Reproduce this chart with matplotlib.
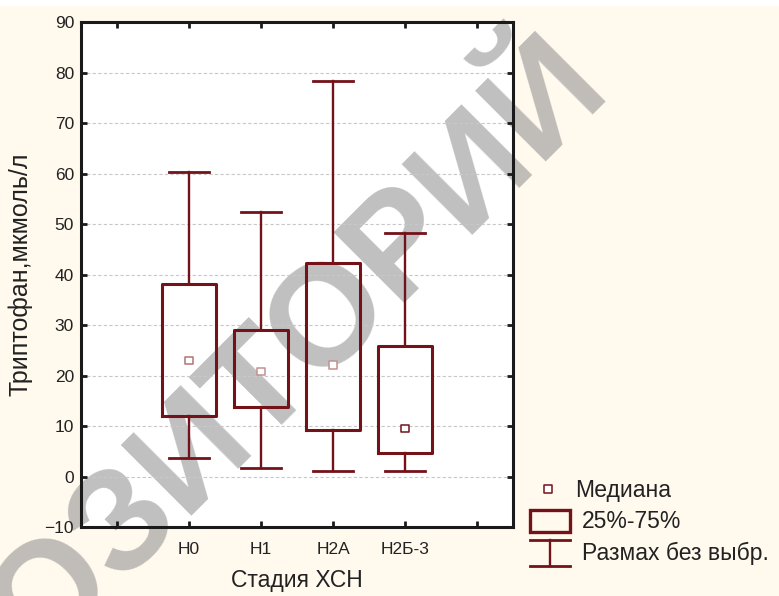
import numpy as np
import matplotlib
matplotlib.use('Agg')
import matplotlib.pyplot as plt
from matplotlib.patches import Rectangle

# tryptophan by CHF stage: medians, quartiles and non-outlier range
stages = ['Н0', 'Н1', 'Н2А', 'Н2Б-3']
medians = [23.0, 20.8, 22.1, 9.5]
q1 = [12.0, 13.8, 9.2, 4.7]
q3 = [38.1, 29.0, 42.3, 25.9]
whisk_lo = [3.7, 1.6, 1.0, 1.0]
whisk_hi = [60.3, 52.4, 78.3, 48.2]

maroon = '#74121a'
median_colors = ['#b07575', '#c49090', '#c49090', '#74121a']
bg = '#fff9ee'
text_color = '#222222'

plt.rcParams['font.family'] = ['Liberation Sans', 'DejaVu Sans']

fig = plt.figure(figsize=(7.79, 5.96), dpi=100, facecolor=bg)
fig.patches.append(Rectangle((0, 0.99), 1, 0.01, transform=fig.transFigure,
                             facecolor='white', edgecolor='none', zorder=-3))

ax_rect = [0.104, 0.1158, 0.5546, 0.847]
# white plot area sits under the watermark, the axes themselves are see-through
fig.patches.append(Rectangle(ax_rect[:2], ax_rect[2], ax_rect[3],
                             transform=fig.transFigure, facecolor='white',
                             edgecolor='none', zorder=-2))
fig.text(0.248, 0.242, 'РЕПОЗИТОРИЙ', rotation=45, rotation_mode='anchor',
         ha='center', va='center', fontsize=104, fontweight='bold',
         color='#7a7a7e', alpha=0.48, zorder=-1)

ax = fig.add_axes(ax_rect)
ax.patch.set_alpha(0)

positions = np.arange(1, len(stages) + 1)
stats = []
for i in range(len(stages)):
    stats.append(dict(med=medians[i], q1=q1[i], q3=q3[i],
                      whislo=whisk_lo[i], whishi=whisk_hi[i], fliers=[]))

ax.bxp(stats, positions=positions, widths=0.76, capwidths=0.56,
       showfliers=False,
       boxprops=dict(color=maroon, linewidth=2.2),
       whiskerprops=dict(color=maroon, linewidth=1.7),
       capprops=dict(color=maroon, linewidth=2.0),
       medianprops=dict(visible=False))

ax.scatter(positions, medians, marker='s', s=28, facecolor='white',
           edgecolor=median_colors, linewidth=1.1, zorder=5)

ax.set_xlim(-0.5, 5.5)
ax.set_ylim(-10, 90)
ax.set_xticks(range(6))
ax.set_xticklabels([''] + stages + [''])
ax.set_yticks(range(-10, 91, 10))

ax.yaxis.grid(True, linestyle=(0, (3, 2)), color='#c8c8c8', linewidth=0.8)
ax.set_axisbelow(True)

ax.tick_params(direction='in', top=True, right=True, length=4, width=2,
               color='#1a1a1a', labelsize=12.5, labelcolor=text_color)
ax.tick_params(axis='x', pad=11)
ax.tick_params(axis='y', pad=5)
for sp in ax.spines.values():
    sp.set_linewidth(2.2)
    sp.set_color('#1a1a1a')

ax.set_ylabel('Триптофан,мкмоль/л', fontsize=18, color=text_color)
ax.yaxis.set_label_coords(-0.113, 0.5)
ax.set_xlabel('Стадия ХСН', fontsize=16.5, color=text_color)
ax.xaxis.set_label_coords(0.5, -0.083)

# legend drawn on an overlay in pixel units
lg = fig.add_axes([0, 0, 1, 1])
lg.set_xlim(0, 779)
lg.set_ylim(596, 0)
lg.axis('off')

lg.scatter([548], [489], marker='s', s=28, facecolor='white',
           edgecolor=maroon, linewidth=1.1)
lg.text(575, 491, 'Медиана', fontsize=16.5, va='center', color=text_color)
lg.add_patch(Rectangle((530, 510), 40, 22, facecolor='none',
                       edgecolor=maroon, linewidth=2.4))
lg.text(582, 522, '25%-75%', fontsize=16.5, va='center', color=text_color)
lg.plot([530, 570], [540, 540], color=maroon, lw=2.0)
lg.plot([530, 570], [566, 566], color=maroon, lw=2.0)
lg.plot([550, 550], [540, 566], color=maroon, lw=1.7)
lg.text(582, 553, 'Размах без выбр.', fontsize=16.5, va='center', color=text_color)

fig.savefig('out.png', dpi=100, facecolor=bg)
